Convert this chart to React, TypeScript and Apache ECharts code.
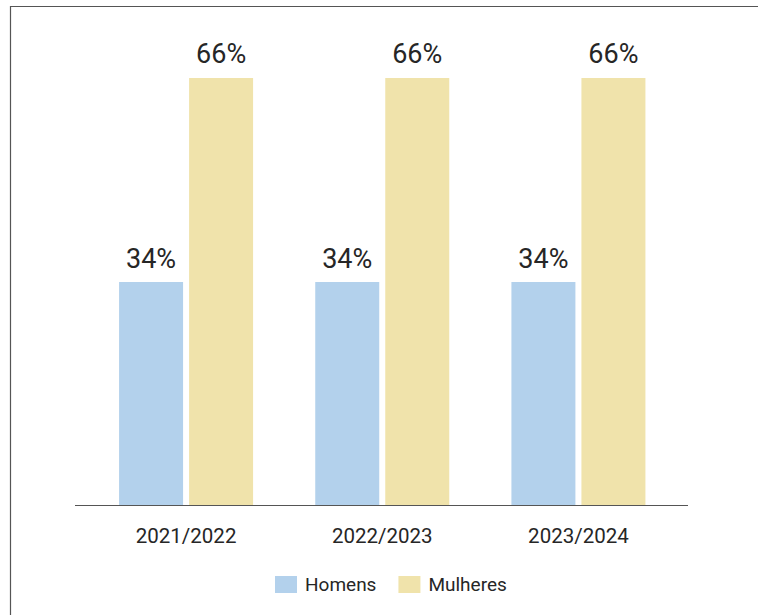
import React, { useEffect, useRef } from "react";
import * as echarts from "echarts";

const categories = ["2021/2022", "2022/2023", "2023/2024"];
const homens = [34.3, 34.3, 34.3];
const mulheres = [65.7, 65.7, 65.7];
const seriesNames = ["Homens", "Mulheres"];

export default function App() {
  const ref = useRef<HTMLDivElement>(null);
  useEffect(() => {
    if (!ref.current) return;
    const chart = echarts.init(ref.current, null, { renderer: "svg" });
    const font = "Roboto";
    const label = {
      show: true,
      position: "top",
      distance: 10,
      fontSize: 27,
      fontFamily: font,
      color: "#262626",
      formatter: (p: any) => Math.round(p.value) + "%",
    };
    chart.setOption({
      animation: false,
      backgroundColor: "#fff",
      textStyle: { fontFamily: font },
      grid: { left: 88, right: 81.5, top: 50, bottom: 110 },
      legend: {
        data: seriesNames,
        bottom: 16,
        left: 270,
        itemWidth: 22,
        itemHeight: 17,
        itemGap: 22,
        textStyle: { fontSize: 19, color: "#262626", fontFamily: font, padding: [0, 0, 0, 3] },
        icon: "rect",
      },
      xAxis: {
        type: "category",
        data: categories,
        axisLine: { show: false },
        axisTick: { show: false },
        axisLabel: { fontSize: 20.5, color: "#262626", margin: 20, fontFamily: font },
      },
      yAxis: {
        type: "value",
        min: 0,
        max: 70,
        show: false,
        splitLine: { show: false },
      },
      series: [
        {
          name: seriesNames[0],
          type: "bar",
          data: homens,
          barWidth: 64,
          barGap: "9.4%",
          itemStyle: { color: "#b3d1ec" },
          label,
        },
        {
          name: seriesNames[1],
          type: "bar",
          data: mulheres,
          barWidth: 64,
          barGap: "9.4%",
          itemStyle: { color: "#f0e3ab" },
          label,
        },
      ],
      graphic: [
        {
          type: "polyline",
          shape: { points: [[10.5, 615], [10.5, 6.5], [758, 6.5]] },
          style: { stroke: "#555", lineWidth: 1.2, fill: null },
          silent: true,
        },
        {
          type: "line",
          shape: { x1: 75, y1: 505.5, x2: 688, y2: 505.5 },
          style: { stroke: "#555", lineWidth: 1.2 },
          silent: true,
          z: 10,
        },
      ],
    });
    return () => chart.dispose();
  }, []);
  return (
    <div
      ref={ref}
      style={{ position: "fixed", left: 0, top: 0, width: 758, height: 615, background: "#fff" }}
    />
  );
}
